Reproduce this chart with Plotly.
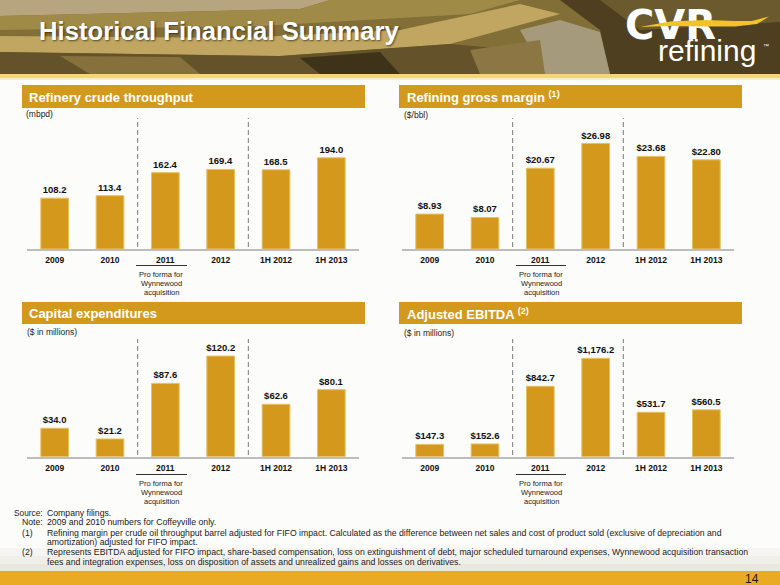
import plotly.graph_objects as go

W, H = 780, 585


def X(px):
    return px / W


def Y(py):
    return 1 - py / H


# ---------------- data ----------------
categories = ["2009", "2010", "2011", "2012", "1H 2012", "1H 2013"]
throughput_mbpd = [108.2, 113.4, 162.4, 169.4, 168.5, 194.0]
gross_margin_bbl = [8.93, 8.07, 20.67, 26.98, 23.68, 22.80]
capex_musd = [34.0, 21.2, 87.6, 120.2, 62.6, 80.1]
ebitda_musd = [147.3, 152.6, 842.7, 1176.2, 531.7, 560.5]

panel_titles = [
    "Refinery crude throughput",
    "Refining gross margin <sup>(1)</sup>",
    "Capital expenditures",
    "Adjusted EBITDA <sup>(2)</sup>",
]
unit_labels = ["(mbpd)", "($/bbl)", "($ in millions)", "($ in millions)"]
value_formats = ["%{y:.1f}", "$%{y:.2f}", "$%{y:.1f}", "$%{y:,.1f}"]
pro_forma_lines = ["Pro forma for", "Wynnewood", "acquisition"]
slide_title = "Historical Financial Summary"
logo_word = "CVR"
logo_sub = "refining"
page_number = "14"
footnote_keys = ["Source:", "Note:", "(1)", "", "(2)", ""]
footnote_texts = [
    "Company filings.",
    "2009 and 2010 numbers for Coffeyville only.",
    "Refining margin per crude oil throughput barrel adjusted for FIFO impact. Calculated as the difference between net sales and cost of product sold (exclusive of depreciation and",
    "amortization) adjusted for FIFO impact.",
    "Represents EBITDA adjusted for FIFO impact, share-based compensation, loss on extinguishment of debt, major scheduled turnaround expenses, Wynnewood acquisition transaction",
    "fees and integration expenses, loss on disposition of assets and unrealized gains and losses on derivatives.",
]

series = [throughput_mbpd, gross_margin_bbl, capex_musd, ebitda_musd]

# ---------------- style / layout geometry ----------------
FONT = "Liberation Sans, Arial, sans-serif"
GOLD = "#D3991D"
BAR = "#D4991C"
BAR_EDGE = "#E6C062"

panels = [
    dict(xa="x", ya="y", x0=27, x1=359, base=249, top=115, ymax=285.1,
         hdr=(22, 365, 85, 108), tx=27, ty=97.5, ux=24, uy=114, dash=(118, 247),
         ul=(136, 187, 265.5), pf=161, pfy=(274, 283, 292)),
    dict(xa="x2", ya="y2", x0=402, x1=734, base=249, top=115, ymax=34.27,
         hdr=(399, 742, 85, 108), tx=405, ty=97.5, ux=402, uy=115, dash=(118, 247),
         ul=(516, 566, 265.5), pf=541, pfy=(274, 283, 292)),
    dict(xa="x3", ya="y3", x0=27, x1=359, base=456.7, top=335, ymax=145.4,
         hdr=(22, 365, 302, 324), tx=27, ty=313.5, ux=25, uy=332, dash=(339, 455),
         ul=(136, 187, 474.5), pf=161, pfy=(483.5, 492.5, 501.5)),
    dict(xa="x4", ya="y4", x0=402, x1=734, base=456.7, top=335, ymax=1455.7,
         hdr=(399, 742, 302, 324), tx=405, ty=313.5, ux=402, uy=333, dash=(339, 455),
         ul=(516, 566, 474.5), pf=541, pfy=(483.5, 492.5, 501.5)),
]

fig = go.Figure()
shapes = []
annotations = []


def rect(x0, y0, x1, y1, color, layer="below"):
    shapes.append(dict(type="rect", xref="paper", yref="paper",
                       x0=X(x0), x1=X(x1), y0=Y(y1), y1=Y(y0),
                       fillcolor=color, line=dict(width=0), layer=layer))


def poly(pts, color, layer="below"):
    d = "M " + " L ".join(f"{X(a):.5f},{Y(b):.5f}" for a, b in pts) + " Z"
    shapes.append(dict(type="path", xref="paper", yref="paper", path=d,
                       fillcolor=color, line=dict(width=0), layer=layer))


def note(px, py, text, size, color="#1a1a1a", xanchor="left", family=FONT, **kw):
    annotations.append(dict(x=X(px), y=Y(py), xref="paper", yref="paper",
                            xanchor=xanchor, yanchor="middle", showarrow=False,
                            text=text, font=dict(family=family, size=size, color=color, **kw)))


# ---------------- header "photo" approximation ----------------
rect(0, 0, 780, 74, "#826f37")
poly([(0, 0), (330, 0), (300, 9), (0, 16)], "#b6a57e")
poly([(0, 16), (300, 9), (330, 0), (520, 0), (470, 14), (260, 26), (0, 30)], "#a08a48")
poly([(0, 36), (240, 38), (400, 30), (520, 4), (560, 14), (450, 44), (280, 56), (0, 52)], "#c0a660")
poly([(0, 52), (280, 56), (450, 44), (520, 50), (520, 74), (0, 74)], "#63522a")
poly([(60, 56), (180, 57), (200, 74), (90, 74)], "#86703c")
poly([(300, 58), (380, 52), (400, 74), (320, 74)], "#3e3318")
poly([(560, 0), (780, 0), (780, 74), (610, 74), (600, 30)], "#4d3f1f")
poly([(600, 0), (780, 0), (780, 22), (640, 30)], "#6b5a2e")
poly([(520, 30), (560, 20), (600, 32), (610, 74), (545, 74)], "#a59a7c")
poly([(470, 50), (540, 40), (545, 74), (480, 74)], "#8c7644")
rect(0, 74, 780, 78, "#F3D677")
rect(0, 78, 780, 80, "#F8EDC6")

# bottom fade + bar
rect(0, 548, 780, 556, "#F6F5F1")
rect(0, 556, 780, 564, "#F0EFEA")
rect(0, 564, 780, 571, "#E9E7E0")
rect(0, 571, 780, 585, "#EBAA23")

# title
note(37, 30.5, f"<b>{slide_title}</b>", 25.7, color="white",
     shadow="1px 1px 2px rgba(0,0,0,0.55)")

# logo: word drawn as a text trace on an overlay axis so the swoosh can sit on top
fig.add_trace(go.Scatter(
    x=[625], y=[29], mode="text", text=[f"<b>{logo_word}</b>"],
    textposition="middle right", xaxis="x5", yaxis="y5",
    textfont=dict(family="DejaVu Sans, sans-serif", size=40, color="white"),
    hoverinfo="skip", showlegend=False, cliponaxis=False,
))
poly([(640, 27), (670, 21.5), (705, 20), (735, 21), (752, 21), (769, 16.5),
      (757, 24), (735, 26.5), (705, 26.5), (670, 26)], "#F2C42A", layer="above")
note(656, 50, logo_sub, 30, color="white")
note(761, 46, "™", 6, color="white")

# page number
note(761, 578.5, page_number, 12, xanchor="right")

# footnotes
foot_y = [512.5, 522, 532.5, 542, 552, 561.5]
for key, txt, fy in zip(footnote_keys, footnote_texts, foot_y):
    if key == "Source:":
        note(44.5, fy, key, 8.3, xanchor="right")
    elif key:
        note(20, fy, key, 8.7)
    note(45, fy, txt, 8.7)

# ---------------- panels ----------------
layout_axes = {}
for i, (p, vals) in enumerate(zip(panels, series)):
    fig.add_trace(go.Bar(
        x=categories, y=vals, xaxis=p["xa"], yaxis=p["ya"], width=0.5,
        marker=dict(color=BAR, line=dict(color=BAR_EDGE, width=1)),
        texttemplate=value_formats[i], textposition="outside", cliponaxis=False,
        constraintext="none",
        textfont=dict(family=FONT, size=9.5, color="#111111", weight="bold"),
        hoverinfo="skip", showlegend=False,
    ))
    xname = "xaxis" if i == 0 else f"xaxis{i+1}"
    yname = "yaxis" if i == 0 else f"yaxis{i+1}"
    layout_axes[xname] = dict(
        domain=[X(p["x0"]), X(p["x1"])], anchor=p["ya"], type="category",
        range=[-0.5, 5.5], showgrid=False, zeroline=False,
        showline=True, linecolor="#BDBDBD", linewidth=2,
        ticks="outside", ticklen=2, tickcolor="rgba(0,0,0,0)",
        tickfont=dict(family=FONT, size=8.5, color="#111111", weight="bold"),
        fixedrange=True,
    )
    layout_axes[yname] = dict(
        domain=[Y(p["base"]), Y(p["top"])], anchor=p["xa"], range=[0, p["ymax"]],
        visible=False, showgrid=False, zeroline=False, fixedrange=True,
    )

    # header bar + title
    hx0, hx1, hy0, hy1 = p["hdr"]
    rect(hx0, hy0, hx1, hy1, GOLD)
    note(p["tx"], p["ty"], f"<b>{panel_titles[i]}</b>", 13, color="white")
    # unit label
    note(p["ux"], p["uy"], unit_labels[i], 8.5, color="#222222")
    # dashed separators between periods
    for xs in (1.5, 3.5):
        shapes.append(dict(type="line", xref=p["xa"], yref="paper",
                           x0=xs, x1=xs, y0=Y(p["dash"][1]), y1=Y(p["dash"][0]),
                           line=dict(color="#7a7a7a", width=1, dash="5px,3px"),
                           layer="below"))
    # underline under 2011 and pro forma note
    ux0, ux1, uy = p["ul"]
    shapes.append(dict(type="line", xref="paper", yref="paper",
                       x0=X(ux0), x1=X(ux1), y0=Y(uy), y1=Y(uy),
                       line=dict(color="#333333", width=1.2)))
    for line_txt, ly in zip(pro_forma_lines, p["pfy"]):
        note(p["pf"], ly, line_txt, 7.5, color="#222222", xanchor="center")

layout_axes["xaxis5"] = dict(domain=[0, 1], range=[0, W], visible=False,
                             fixedrange=True, anchor="y5")
layout_axes["yaxis5"] = dict(domain=[0, 1], range=[H, 0], visible=False,
                             fixedrange=True, anchor="x5")

fig.update_layout(
    width=W, height=H, margin=dict(l=0, r=0, t=0, b=0),
    paper_bgcolor="#FCFCFA", plot_bgcolor="rgba(0,0,0,0)",
    shapes=shapes, annotations=annotations, bargap=0.5,
    **layout_axes,
)

fig.write_html("out.html", config={"displayModeBar": False},
               post_script="document.body.style.margin='0px';")
